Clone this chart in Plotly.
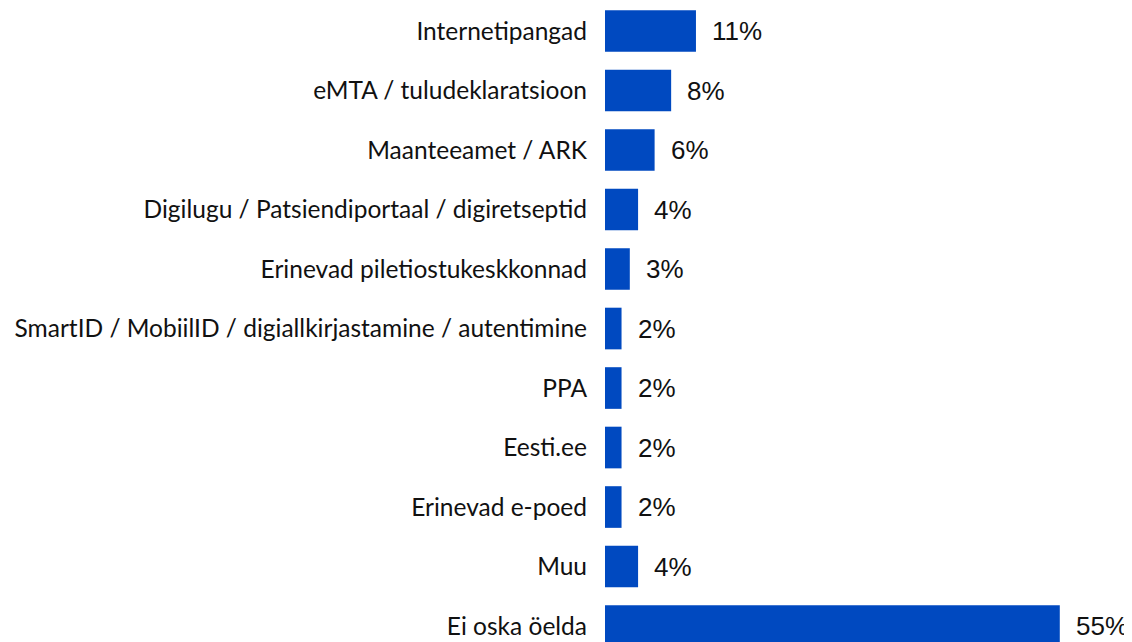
import plotly.graph_objects as go

categories = [
    "Internetipangad",
    "eMTA / tuludeklaratsioon",
    "Maanteeamet / ARK",
    "Digilugu / Patsiendiportaal / digiretseptid",
    "Erinevad piletiostukeskkonnad",
    "SmartID / MobiilID / digiallkirjastamine / autentimine",
    "PPA",
    "Eesti.ee",
    "Erinevad e-poed",
    "Muu",
    "Ei oska öelda",
]
values = [11, 8, 6, 4, 3, 2, 2, 2, 2, 4, 55]
labels = [f"{v}%" for v in values]

fig = go.Figure(go.Bar(
    x=values, y=categories, orientation="h",
    marker=dict(color="#0049C0", line=dict(width=0)),
    width=0.7,
))

# value labels a bit away from the bar ends
for cat, val, txt in zip(categories, values, labels):
    fig.add_annotation(x=val, y=cat, text=txt, showarrow=False, xanchor="left",
                       xshift=14, font=dict(family="Liberation Sans, Arial", size=26, color="#111111"))

# the page body adds an 8px offset, so margins/ranges account for it
fig.update_layout(
    width=1132, height=642,
    margin=dict(l=597, r=0, t=0, b=0),
    font=dict(family="Liberation Sans"),
    plot_bgcolor="white", paper_bgcolor="white",
    showlegend=False,
    xaxis=dict(range=[0, 64.7], visible=False),
    yaxis=dict(range=[10.403, -0.387], showgrid=False, zeroline=False, showline=False,
               ticks="", ticklabelstandoff=17,
               tickfont=dict(family="Lato", size=24.5, color="#111111")),
)

fig.write_html("out.html")
